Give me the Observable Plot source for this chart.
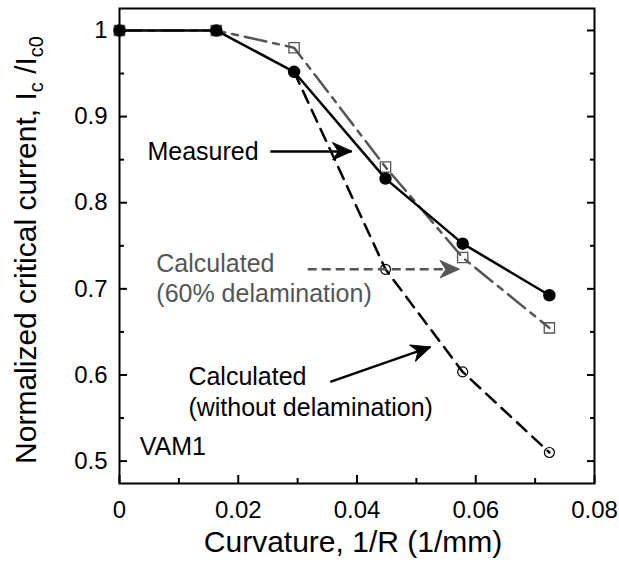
<!DOCTYPE html>
<html>
<head>
<meta charset="utf-8">
<script src="https://cdn.jsdelivr.net/npm/d3@7"></script>
<script src="https://cdn.jsdelivr.net/npm/@observablehq/plot@0.6"></script>
<style>
  html, body { margin: 0; padding: 0; background: white; }
</style>
</head>
<body>
<div id="chart"></div>
<script>
// ---- data ----
const curvature   = [0, 0.0163, 0.0294, 0.0448, 0.0578, 0.0724];
const measured    = [1, 1, 0.952, 0.828, 0.7525, 0.6926];
const calc60      = [1, 1, 0.980, 0.8414, 0.7363, 0.6547];
const calcNoDelam = [1, 1, 0.952, 0.7227, 0.6036, 0.510];

const xTicks      = [0, 0.02, 0.04, 0.06, 0.08];
const xTickLabels = ["0", "0.02", "0.04", "0.06", "0.08"];
const xMinorTicks = [0.01, 0.03, 0.05, 0.07];
const yTicks      = [0.5, 0.6, 0.7, 0.8, 0.9, 1];
const yTickLabels = ["0.5", "0.6", "0.7", "0.8", "0.9", "1"];
const yMinorTicks = [0.55, 0.65, 0.75, 0.85, 0.95];

const xTitle = "Curvature, 1/R (1/mm)";
const yTitleParts = [["Normalized critical current, I", false], ["c", true], [" /I", false], ["c0", true]];

// annotations (data units)
const blackLabels = [
  {text: "Measured", x: 0.0047, y: 0.8608},
  {text: "Calculated\n(without delamination)", x: 0.0116, y: 0.5815},
  {text: "VAM1", x: 0.0034, y: 0.5186}
];
const grayLabels = [
  {text: "Calculated\n(60% delamination)", x: 0.0062, y: 0.7135}
];
const blackArrows = [
  {x1: 0.0254, y1: 0.8596, x2: 0.0391, y2: 0.8596, angle: 90},
  {x1: 0.0355, y1: 0.592, x2: 0.0524, y2: 0.6326, angle: 70.7}
];
const grayArrows = [
  {x1: 0.0317, y1: 0.7227, x2: 0.0572, y2: 0.7227, angle: 90}
];

const rows = curvature.map((x, i) => ({x, measured: measured[i], calc60: calc60[i], noDelam: calcNoDelam[i]}));
const noDelamRows = rows.slice(2);

const gray = "#555555";
const fmtX = d => xTickLabels[xTicks.indexOf(d)];
const fmtY = d => yTickLabels[yTicks.indexOf(d)];

const headShape = {
  draw(context, l) {
    const w = l * 0.45;
    context.moveTo(0, -l);
    context.lineTo(w, 0);
    context.lineTo(0, -l * 0.3);
    context.lineTo(-w, 0);
    context.closePath();
  }
};

const plot = Plot.plot({
  width: 619,
  height: 564,
  marginLeft: 119,
  marginRight: 25,
  marginTop: 8,
  marginBottom: 81,
  style: {fontFamily: "'Liberation Sans', Arial, sans-serif", background: "white", color: "black", overflow: "visible"},
  x: {domain: [0, 0.08]},
  y: {domain: [0.474, 1.0255]},
  marks: [
    // ticks (inward)
    Plot.axisX(xTicks, {tickSize: -8, strokeWidth: 2, fill: "none", label: null}),
    Plot.axisX(xMinorTicks, {tickSize: -5, strokeWidth: 2, fill: "none", label: null}),
    Plot.axisY(yTicks, {tickSize: -8, strokeWidth: 2, fill: "none", label: null}),
    Plot.axisY(yMinorTicks, {tickSize: -5, strokeWidth: 2, fill: "none", label: null}),
    Plot.axisY(yTicks, {anchor: "right", tickSize: -8, strokeWidth: 2, fill: "none", label: null}),
    Plot.axisY(yMinorTicks, {anchor: "right", tickSize: -5, strokeWidth: 2, fill: "none", label: null}),
    // tick labels
    Plot.axisX(xTicks, {tickSize: 0, tickPadding: 17, fontSize: 24, tickFormat: fmtX, label: null}),
    Plot.axisY(yTicks, {tickSize: 0, tickPadding: 12, fontSize: 24, tickFormat: fmtY, label: null}),
    Plot.frame({strokeWidth: 2}),
    // x title
    Plot.text([xTitle], {frameAnchor: "bottom", dy: 68, dx: -4, fontSize: 30}),

    // 60% delamination (gray dash-dot + squares)
    Plot.dot(rows, {x: "x", y: "calc60", symbol: "square", r: 5.8, stroke: gray, strokeWidth: 1.3, fill: "white"}),
    Plot.line(rows, {x: "x", y: "calc60", stroke: gray, strokeWidth: 2.5, strokeDasharray: "22,7,6,7"}),
    // without delamination (black dashed + open circles)
    Plot.dot(noDelamRows, {x: "x", y: "noDelam", r: 5, stroke: "black", strokeWidth: 1.2, fill: "white"}),
    Plot.line(noDelamRows, {x: "x", y: "noDelam", stroke: "black", strokeWidth: 2.5, strokeDasharray: "13,8"}),
    // measured (black solid + filled circles)
    Plot.line(rows, {x: "x", y: "measured", stroke: "black", strokeWidth: 2.5}),
    Plot.dot(rows, {x: "x", y: "measured", r: 5.5, fill: "black", stroke: "black"}),

    // annotation arrows
    Plot.link(blackArrows, {x1: "x1", y1: "y1", x2: "x2", y2: "y2", stroke: "black", strokeWidth: 2.5}),
    Plot.vector(blackArrows, {x: "x2", y: "y2", rotate: "angle", length: 19, anchor: "end", shape: headShape, fill: "black", stroke: "black", strokeWidth: 1}),
    Plot.link(grayArrows, {x1: "x1", y1: "y1", x2: "x2", y2: "y2", stroke: gray, strokeWidth: 2.5, strokeDasharray: "9,5"}),
    Plot.vector(grayArrows, {x: "x2", y: "y2", rotate: "angle", length: 19, anchor: "end", shape: headShape, fill: gray, stroke: gray, strokeWidth: 1}),

    // annotation text
    Plot.text(blackLabels, {x: "x", y: "y", text: "text", textAnchor: "start", lineAnchor: "middle", fontSize: 25, lineHeight: 1.22, fill: "black"}),
    Plot.text(grayLabels, {x: "x", y: "y", text: "text", textAnchor: "start", lineAnchor: "middle", fontSize: 25, lineHeight: 1.22, fill: gray})
  ]
});

document.getElementById("chart").appendChild(plot);

// y-axis title with subscripts
const svg = d3.select(plot.tagName.toLowerCase() === "svg" ? plot : plot.querySelector("svg"));
const yt = svg.append("text")
  .attr("transform", "translate(36,250) rotate(-90)")
  .attr("text-anchor", "middle")
  .attr("font-size", 30)
  .attr("fill", "black");
yTitleParts.forEach(([t, sub], i) => {
  const prevSub = i > 0 && yTitleParts[i - 1][1];
  const ts = yt.append("tspan").text(t);
  if (sub) ts.attr("font-size", 20).attr("dy", prevSub ? 0 : 7);
  else if (prevSub) ts.attr("dy", -7);
});
</script>
</body>
</html>
